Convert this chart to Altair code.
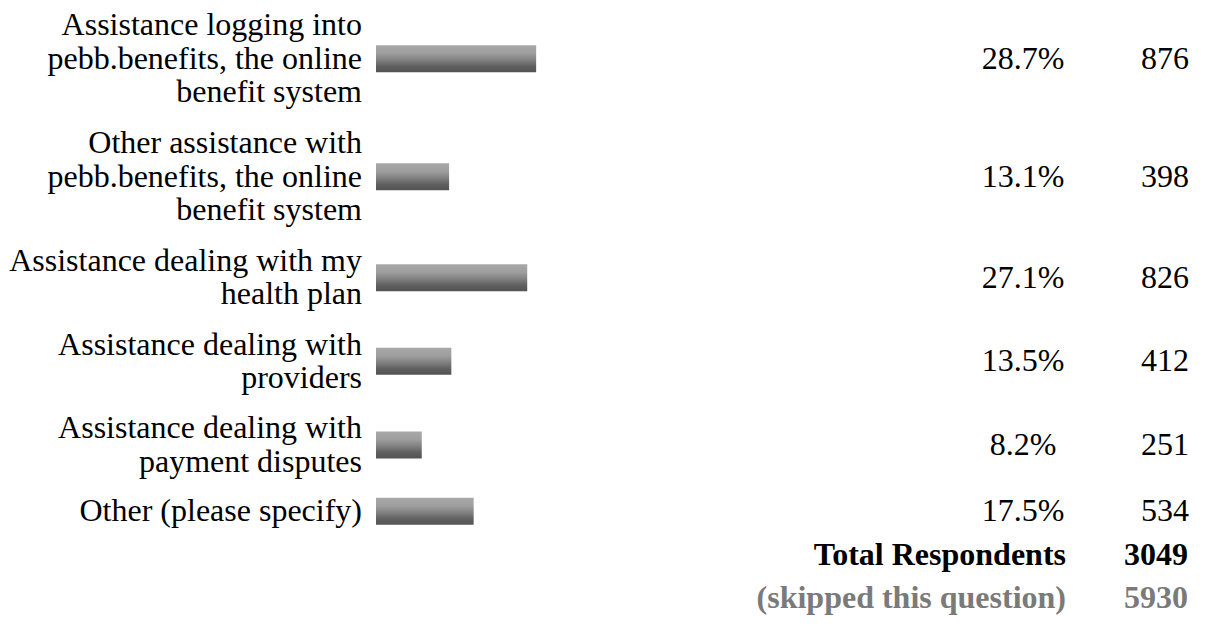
import altair as alt
import pandas as pd

# ---- data ----
labels = [
    "Assistance logging into\npebb.benefits, the online\nbenefit system",
    "Other assistance with\npebb.benefits, the online\nbenefit system",
    "Assistance dealing with my\nhealth plan",
    "Assistance dealing with\nproviders",
    "Assistance dealing with\npayment disputes",
    "Other (please specify)",
]
percents = [28.7, 13.1, 27.1, 13.5, 8.2, 17.5]
counts = [876, 398, 826, 412, 251, 534]
summary_labels = ["Total Respondents", "(skipped this question)"]
summary_values = [3049, 5930]
summary_colors = ["#000000", "#7a7a7a"]

# ---- layout: row heights derived from the number of label lines ----
LINE = 35          # row growth per label line
PAD = 15           # row padding
TEXT_LINE = 34     # text line spacing
TOP = -13.5
SUMMARY_STEP = 44

centers = []
pos = TOP
for lab in labels:
    h = LINE * len(lab.split("\n")) + PAD
    centers.append(pos + h / 2)
    pos += h

df = pd.DataFrame({
    "label": labels,
    "pct": percents,
    "pct_label": [f"{p:.1f}%" for p in percents],
    "count": [str(c) for c in counts],
    "yc": centers,
})

# one text row per label line, centred as a block on the row centre
line_rows = []
for lab, c in zip(labels, centers):
    parts = lab.split("\n")
    n = len(parts)
    for i, part in enumerate(parts):
        line_rows.append({"line": part, "yc": c + (i - (n - 1) / 2) * TEXT_LINE})
ldf = pd.DataFrame(line_rows)

sdf = pd.DataFrame({
    "label": summary_labels,
    "value": [str(v) for v in summary_values],
    "color": summary_colors,
    "yc": [centers[-1] + SUMMARY_STEP * (i + 1) for i in range(len(summary_labels))],
})

W, H = 1190, 620
FONT = "Liberation Serif"
FS = 32

xscale = alt.Scale(domain=[0, 100], range=[368, 926])
yscale = alt.Scale(domain=[0, H], range=[0, H])
Y = alt.Y("yc:Q", scale=yscale, axis=None)

grad = alt.Gradient(
    gradient="linear",
    x1=0, x2=0, y1=0, y2=1,
    stops=[
        alt.GradientStop(color="#a8a8a8", offset=0),
        alt.GradientStop(color="#9e9e9e", offset=0.3),
        alt.GradientStop(color="#808080", offset=0.55),
        alt.GradientStop(color="#606060", offset=0.78),
        alt.GradientStop(color="#535353", offset=1),
    ],
)

base = alt.Chart(df)

bars = base.mark_bar(orient="horizontal", height=27, color=grad).encode(
    x=alt.X("pct:Q", scale=xscale, axis=None),
    x2=alt.datum(0),
    y=Y,
)

label_text = alt.Chart(ldf).mark_text(
    align="right", baseline="middle",
    font=FONT, fontSize=FS, color="#000000",
).encode(x=alt.value(354), y=Y, text="line:N")

pct_text = base.mark_text(
    align="center", baseline="middle", font=FONT, fontSize=FS, color="#000000",
).encode(x=alt.value(1015), y=Y, text="pct_label:N")

count_text = base.mark_text(
    align="center", baseline="middle", font=FONT, fontSize=FS, color="#000000",
).encode(x=alt.value(1157), y=Y, text="count:N")

sbase = alt.Chart(sdf)
sum_label = sbase.mark_text(
    align="right", baseline="middle", font=FONT, fontSize=FS, fontWeight="bold",
).encode(
    x=alt.value(1058), y=Y, text="label:N",
    color=alt.Color("color:N", scale=None),
)
sum_value = sbase.mark_text(
    align="center", baseline="middle", font=FONT, fontSize=FS, fontWeight="bold",
).encode(
    x=alt.value(1148), y=Y, text="value:N",
    color=alt.Color("color:N", scale=None),
)

chart = alt.layer(
    bars, label_text, pct_text, count_text, sum_label, sum_value
).properties(
    width=W, height=H, padding=0, background="white",
    autosize=alt.AutoSizeParams(type="none"),
).configure_view(strokeWidth=0, stroke="transparent")

chart.save("out.html", embed_options={"renderer": "svg", "actions": False})
